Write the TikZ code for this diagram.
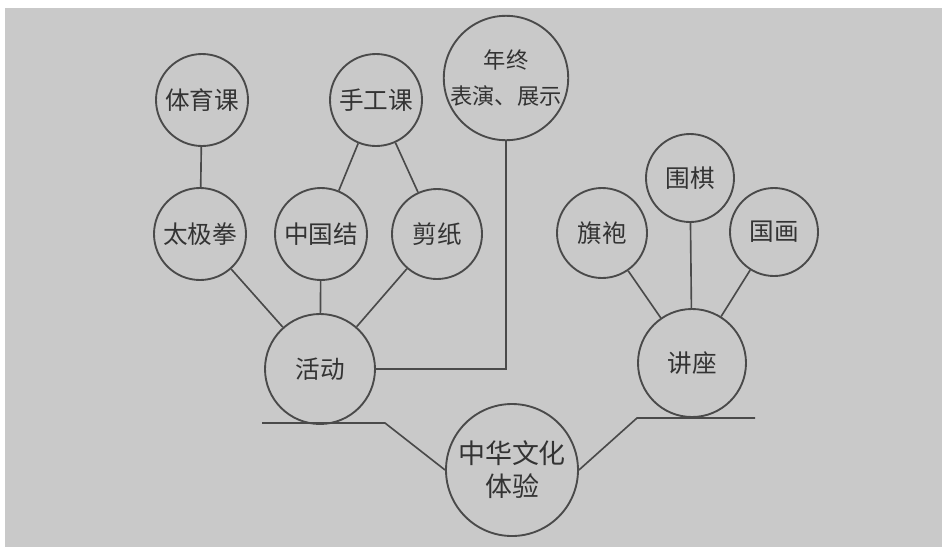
\documentclass[tikz,border=0pt]{standalone}
\usepackage{fontspec}
\setmainfont{Noto Sans CJK SC}
\definecolor{bg}{HTML}{C9C9C9}
\definecolor{ink}{HTML}{4A4A4A}
\definecolor{txt}{HTML}{333333}
\begin{document}
\begin{tikzpicture}[x=0.03cm,y=-0.03cm,
  circ/.style={circle,draw=ink,line width=1.6pt,minimum size=#1*0.06cm,inner sep=0pt,
    font=\fontsize{21}{25}\selectfont,text=txt,align=center},
  link/.style={draw=ink,line width=1.4pt}]
\useasboundingbox (0,0) rectangle (942,547);
\fill[white] (0,0) rectangle (942,547);
\fill[bg] (5,8) rectangle (942,547);
% nodes
\node[circ=46] (tiyu) at (202,100) {体育课};
\node[circ=46] (taiji) at (200,234) {太极拳};
\node[circ=46] (shougong) at (376,100) {手工课};
\node[circ=46] (zgj) at (321,234) {中国结};
\node[circ=45] (jianzhi) at (437,234) {剪纸};
\node[circ=61,font=\fontsize{19}{30}\selectfont] (nianzhong) at (506,78) {年终\\表演、展示};
\node[circ=55] (huodong) at (320,369) {活动};
\node[circ=45] (qipao) at (602,233) {旗袍};
\node[circ=44] (weiqi) at (690,178) {围棋};
\node[circ=44] (guohua) at (774,232) {国画};
\node[circ=54] (jiangzuo) at (692,363) {讲座};
\node[circ=66,font=\fontsize{23}{28}\selectfont] (zhonghua) at (512,470) {中华文化\\体验};
% connectors
\draw[link] (tiyu) -- (taiji);
\draw[link] (shougong) -- (zgj);
\draw[link] (shougong) -- (jianzhi);
\draw[link] (taiji) -- (huodong);
\draw[link] (zgj) -- (huodong);
\draw[link] (jianzhi) -- (huodong);
\draw[link] (huodong.east) -- (huodong.east -| nianzhong.south) -- (nianzhong.south);
\draw[link] (qipao) -- (jiangzuo);
\draw[link] (weiqi) -- (jiangzuo);
\draw[link] (guohua) -- (jiangzuo);
\coordinate (l0) at (262,423);
\coordinate (l1) at (385,423);
\coordinate (r1) at (637,418);
\coordinate (r0) at (755,418);
\draw[link] (l0) -- (l1) -- (zhonghua.west);
\draw[link] (r0) -- (r1) -- (zhonghua.east);
\end{tikzpicture}
\end{document}
